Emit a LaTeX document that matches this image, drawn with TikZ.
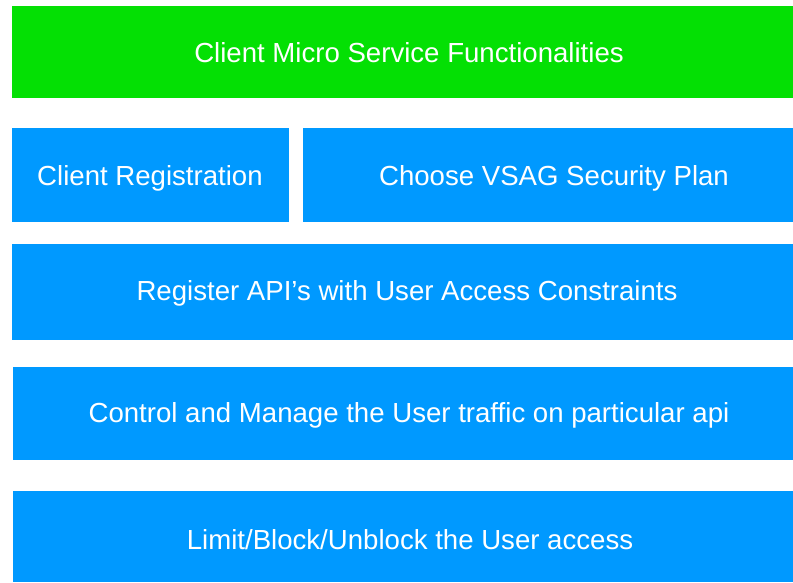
\documentclass[tikz,border=0pt]{standalone}
\usepackage{fontspec}
\setmainfont{Liberation Sans}
\definecolor{boxgreen}{HTML}{04E004}
\definecolor{boxblue}{HTML}{0099FF}
\tikzset{
  blk/.style={draw=none, fill=boxblue},
  lbl/.style={text=white, font=\fontsize{27.6}{30}\selectfont, inner sep=0pt, anchor=center}
}
\begin{document}
\begin{tikzpicture}[x=1pt,y=-1pt]
\useasboundingbox (0,0) rectangle (793,582);
\fill[boxgreen] (12,6) rectangle (793,98);
\fill[boxblue] (12,128) rectangle (289,222);
\fill[boxblue] (303,128) rectangle (793,222);
\fill[boxblue] (12,244) rectangle (793,340);
\fill[boxblue] (13,367) rectangle (793,460);
\fill[boxblue] (13,491) rectangle (793,582);
\node[lbl] (t1) at (409,53) {Client Micro Service Functionalities};
\node[lbl] (t2) at (150,178) {Client Registration};
\node[lbl] (t3) at (554,178) {Choose VSAG Security Plan};
\node[lbl] (t4) at (407,293) {Register API's with User Access Constraints};
\node[lbl] (t5) at (409,415) {Control and Manage the User traffic on particular api};
\node[lbl] (t6) at (410,540) {Limit/Block/Unblock the User access};
\end{tikzpicture}
\end{document}
